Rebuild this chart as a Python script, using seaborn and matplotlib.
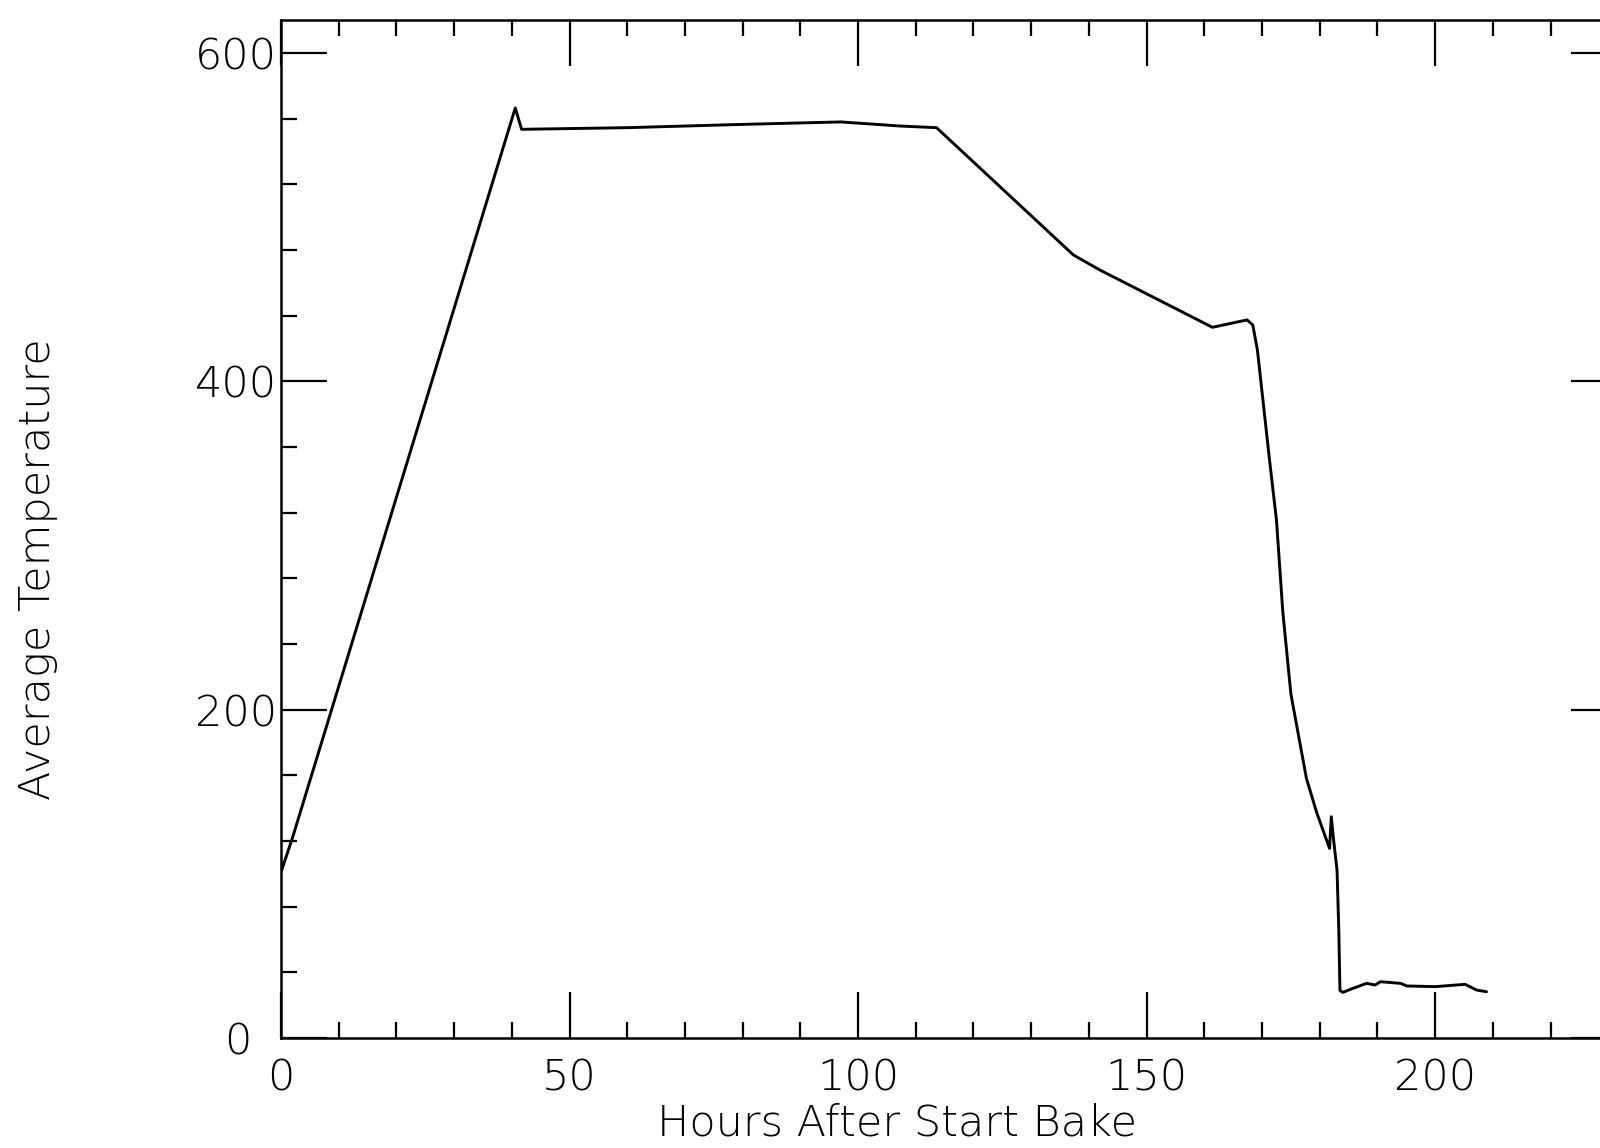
import numpy as np
import pandas as pd
import seaborn as sns
import matplotlib
matplotlib.use("Agg")
import matplotlib.pyplot as plt
from matplotlib.ticker import MultipleLocator
from matplotlib.transforms import ScaledTranslation

# bake curve (hours, average temperature)
hours = [0.0, 2.0, 40.6, 41.7, 60.0, 80.0, 97.0, 107.3, 113.6,
         137.3, 141.9, 161.4, 167.4, 168.4, 169.2, 171.3, 172.5, 173.6,
         175.0, 177.7, 179.5, 181.7, 182.0, 182.4, 183.0, 183.3, 183.5, 184.0,
         185.8, 188.1, 189.6, 190.5, 194.0, 195.1, 200.0, 205.2, 207.2, 208.9]
temperature = [101, 122, 566.5, 553.5, 554.5, 556.5, 558, 555.5, 554.5,
               477, 467.8, 432.9, 437.4, 434.3, 419, 352, 315.5, 259.5,
               209.5, 158, 137, 115.5, 134.8, 120.6, 102, 65.8, 29, 27.8,
               30.3, 33.3, 32.3, 34.3, 33.3, 31.7, 31.3, 32.7, 29.2, 28.2]

x_label = "Hours After Start Bake"
y_label = "Average Temperature"

df = pd.DataFrame({"hours": hours, "temp": temperature})

sns.set_style("ticks")
plt.rcParams["font.family"] = ["DejaVu Sans"]
plt.rcParams["font.weight"] = "light"
plt.rcParams["axes.labelweight"] = "light"
for k in ["text.color", "axes.labelcolor", "xtick.color", "ytick.color", "axes.edgecolor"]:
    plt.rcParams[k] = "black"

fig = plt.figure(figsize=(16, 11.48), dpi=100)
ax = fig.add_axes([0.1756, 0.0958, 0.835, 0.8868])

sns.lineplot(data=df, x="hours", y="temp", ax=ax, color="black", linewidth=2.1,
             estimator=None, sort=False)

ax.set_xlim(0, 231.5)
ax.set_ylim(0, 620.1)

ax.xaxis.set_major_locator(MultipleLocator(50))
ax.xaxis.set_minor_locator(MultipleLocator(10))
ax.yaxis.set_major_locator(MultipleLocator(200))
ax.yaxis.set_minor_locator(MultipleLocator(40))

for s in ax.spines.values():
    s.set_linewidth(1.8)
    s.set_visible(True)

ax.tick_params(which="both", direction="in", top=True, right=True)
ax.tick_params(which="major", length=33, width=1.6, labelsize=31, pad=3)
ax.tick_params(which="minor", length=11.5, width=1.6)
ax.tick_params(axis="x", which="major", pad=14)

ax.set_xlabel(x_label, fontsize=31, fontweight="light", va="center")
ax.set_ylabel(y_label, fontsize=31, fontweight="light", va="center")
ax.xaxis.set_label_coords(0.461, -0.0835)
ax.yaxis.set_label_coords(-0.182, 0.461)

# the plotter pushed the y "0" away from the x "0"
fig.canvas.draw()
for t in ax.yaxis.get_major_ticks():
    if t.get_loc() == 0:
        lbl = t.label1
        lbl.set_transform(lbl.get_transform() + ScaledTranslation(-0.25, 0, fig.dpi_scale_trans))

fig.savefig("out.png", dpi=100, facecolor="white")
